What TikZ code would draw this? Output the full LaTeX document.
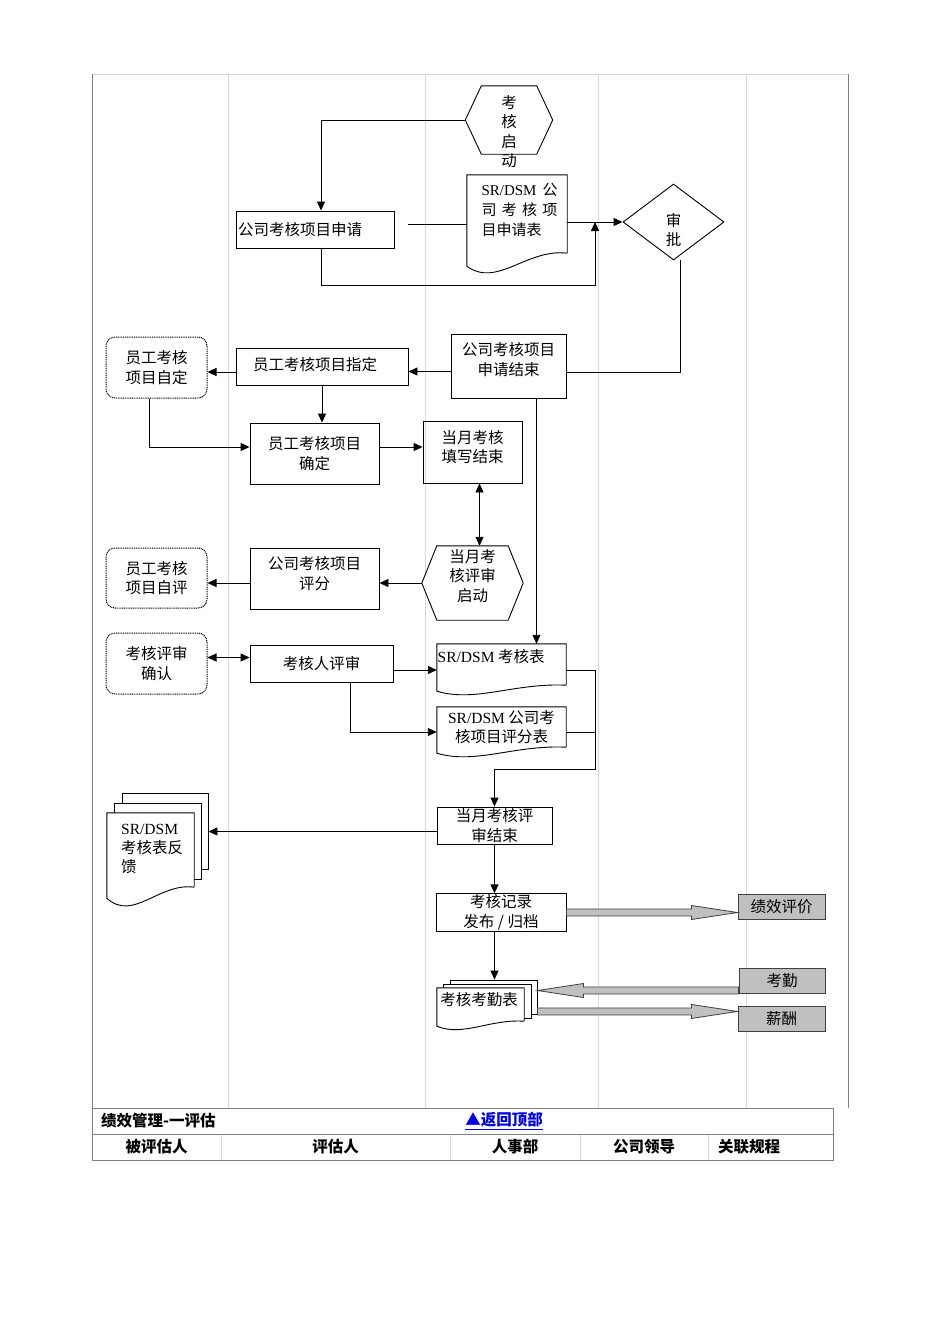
\documentclass[tikz,border=0pt]{standalone}
\usepackage{fontspec}
\setmainfont{Noto Sans CJK SC}
\newfontfamily\lat{Liberation Serif}
\usetikzlibrary{arrows.meta,calc,shapes.geometric}
\definecolor{lanec}{RGB}{215,215,215}
\definecolor{bordc}{RGB}{128,128,128}
\definecolor{fatfill}{RGB}{192,192,192}
\definecolor{fatdraw}{RGB}{64,64,64}
\definecolor{linkc}{RGB}{0,0,230}
\newcommand\docpath[3]{%
  \draw[docst] (#1.south east) -- (#1.north east) -- (#1.north west) -- ([yshift=-#2pt]#1.south west)
   .. controls ($(#1.south west)!0.3!(#1.south east)+(0,1.75*#3)$) and ($(#1.south west)!0.6!(#1.south east)+(0,-0.25*#3)$) .. (#1.south east);}
\newcommand\hexpath[2]{%
  \draw[docst] (#1.west) -- ([xshift=#2pt]#1.north west) -- ([xshift=-#2pt]#1.north east) -- (#1.east)
   -- ([xshift=-#2pt]#1.south east) -- ([xshift=#2pt]#1.south west) -- cycle;}
\newcommand\fatR[2]{%
  \draw[fat] let \p1=#1, \p2=#2 in (\x1,\y1+3.5pt) -- (\x2-46pt,\y1+3.5pt) -- (\x2-46pt,\y1+7pt) -- (\x2,\y1)
   -- (\x2-46pt,\y1-7pt) -- (\x2-46pt,\y1-3.5pt) -- (\x1,\y1-3.5pt) -- cycle;}
\newcommand\fatL[2]{%
  \draw[fat] let \p1=#1, \p2=#2 in (\x1,\y1+3.5pt) -- (\x2+46pt,\y1+3.5pt) -- (\x2+46pt,\y1+7pt) -- (\x2,\y1)
   -- (\x2+46pt,\y1-7pt) -- (\x2+46pt,\y1-3.5pt) -- (\x1,\y1-3.5pt) -- cycle;}
\begin{document}
\begin{tikzpicture}[x=1pt,y=-1pt,
  every node/.style={font=\fontsize{15.5}{19.5}\selectfont},
  lane/.style={draw=lanec, line width=0.8pt},
  bord/.style={draw=bordc, line width=1pt},
  box/.style={draw, line width=0.9pt, rectangle, inner sep=1pt, align=center},
  ghost/.style={draw=none, rectangle, inner sep=0pt, align=center},
  dotbox/.style={draw, rectangle, rounded corners=9pt, dash pattern=on 1pt off 0.8pt, line width=1pt, inner sep=1pt, align=center, minimum width=101pt, minimum height=61pt},
  graybox/.style={draw=fatdraw, fill=fatfill, line width=1pt, rectangle, inner sep=0pt, minimum width=87pt, minimum height=25pt},
  page/.style={draw, fill=white, line width=0.9pt, rectangle, inner sep=0pt},
  docst/.style={draw, fill=white, line width=0.9pt},
  txt/.style={align=center, inner sep=0pt},
  conn/.style={line width=0.9pt, -{Triangle[length=9pt,width=8pt]}},
  dconn/.style={line width=0.9pt, {Triangle[length=9pt,width=8pt]}-{Triangle[length=9pt,width=8pt]}},
  plain/.style={line width=0.9pt},
  fat/.style={draw=fatdraw, fill=fatfill, line width=0.8pt},
  tbl/.style={inner sep=0pt, font=\fontsize{15.5}{19}\selectfont\bfseries}
]
\useasboundingbox (0,0) rectangle (950,1344);
\fill[white] (0,0) rectangle (950,1344);

% swimlanes
\foreach \lx in {228,425,598,746} \draw[lane] (\lx,74) -- (\lx,1108);
\draw[lane] (92,74) -- (848,74);
\draw[bord] (92,74) -- (92,1160);
\draw[bord] (848,74) -- (848,1108);

% table
\draw[bord] (92,1108) rectangle (833,1160);
\draw[bord] (92,1134) -- (833,1134);
\foreach \lx in {221,450,580,708} \draw[lane] (\lx,1134.5) -- (\lx,1159.5);
\node[tbl, anchor=west] (tA) at (101,1121) {绩效管理-一评估};
\node[tbl, text=linkc] (tB) at (504,1121) {\underline{▲返回顶部}};
\node[tbl] (tC) at (156.5,1147) {被评估人};
\node[tbl] (tD) at (335.5,1147) {评估人};
\node[tbl] (tE) at (515,1147) {人事部};
\node[tbl] (tF) at (644,1147) {公司领导};
\node[tbl, anchor=west] (tG) at (718,1147) {关联规程};

% start hexagon
\node[ghost, minimum width=87pt, minimum height=68pt] (hx1) at (509,120) {};
\hexpath{hx1}{16}
\node[txt] (hx1T) at (509,131.5) {考\\核\\启\\动};

% company application
\node[box, minimum width=158pt, minimum height=37pt, text width=154pt, align=left] (sq) at (315,229.5) {公司考核项目申请};

% application form document
\node[ghost, minimum width=100pt, minimum height=78pt] (doc1) at (517,214) {};
\docpath{doc1}{13}{20}
\node[txt, text width=76pt, align=left, font=\fontsize{15}{20}\selectfont] (doc1T) at (519.5,210) {{\lat SR/DSM}\hfill 公\\司\hfill 考\hfill 核\hfill 项\\目申请表};

% approval diamond
\node[diamond, draw, line width=0.9pt, inner sep=0pt, aspect=1.33, minimum width=101pt, minimum height=76pt] (sp) at (673.5,222) {};
\node[txt] (spT) at (673.5,230) {审\\批};

% application end
\node[box, minimum width=115pt, minimum height=64pt] (sqend) at (508.5,366) {};
\node[txt] (sqendT) at (508.5,359.5) {公司考核项目\\申请结束};

% employee items assigned
\node[box, minimum width=172pt, minimum height=37pt] (zd) at (322,366.5) {};
\node[txt] (zdT) at (315,365) {员工考核项目指定};

% self-defined
\node[dotbox] (zdy) at (156.5,367.5) {员工考核\\项目自定};

% confirmed
\node[box, minimum width=129pt, minimum height=61pt] (qd) at (314.5,453.5) {员工考核项目\\确定};

% filling end
\node[box, minimum width=99pt, minimum height=62pt] (tx) at (472.5,452) {};
\node[txt] (txT) at (472.5,447) {当月考核\\填写结束};

% review start hexagon
\node[ghost, minimum width=101pt, minimum height=74pt] (ps) at (472.5,583) {};
\hexpath{ps}{15}
\node[txt] (psT) at (472.5,576) {当月考\\核评审\\启动};

% scoring
\node[box, minimum width=129pt, minimum height=61pt] (pf) at (314.5,578.5) {};
\node[txt] (pfT) at (314.5,573.5) {公司考核项目\\评分};

% self-evaluation
\node[dotbox, minimum height=60pt] (zp) at (156.5,578) {员工考核\\项目自评};

% review confirm
\node[dotbox] (qr) at (156.5,663.5) {考核评审\\确认};

% reviewer review
\node[box, minimum width=143pt, minimum height=37pt] (khr) at (321.5,663.5) {考核人评审};

% SR/DSM assessment form
\node[ghost, minimum width=129pt, minimum height=41pt] (khb) at (501.5,664.5) {};
\docpath{khb}{6}{10}
\node[txt, anchor=west] (khbT) at (437.5,657) {{\lat SR/DSM} 考核表};

% scoring form
\node[ghost, minimum width=129pt, minimum height=40pt] (pfb) at (501.5,727) {};
\docpath{pfb}{6}{10}
\node[txt] (pfbT) at (501.5,727) {{\lat SR/DSM} 公司考\\核项目评分表};

% review end
\node[box, minimum width=115pt, minimum height=37pt] (pj) at (494.5,825.5) {当月考核评\\审结束};

% feedback multi-document
\node[page, minimum width=86pt, minimum height=76pt] (fb3) at (165,831) {};
\node[page, minimum width=87pt, minimum height=76pt] (fb2) at (157.5,841) {};
\node[ghost, minimum width=87pt, minimum height=74pt] (fb) at (150.5,850) {};
\docpath{fb}{11}{20}
\node[txt, anchor=west, align=left] (fbT) at (121,849) {{\lat SR/DSM}\\考核表反\\馈};

% record publish
\node[box, minimum width=130pt, minimum height=37pt] (rec) at (501,912.5) {考核记录\\发布 / 归档};

% gray boxes
\node[graybox] (jx) at (781.5,906.5) {绩效评价};
\node[graybox, minimum width=86pt] (kq) at (782,980.5) {考勤};
\node[graybox] (xc) at (781.5,1018.5) {薪酬};

% attendance multi-document
\node[page, minimum width=87pt, minimum height=34pt] (kqb3) at (493.5,997) {};
\node[page, minimum width=88pt, minimum height=34pt] (kqb2) at (487,1001) {};
\node[ghost, minimum width=87pt, minimum height=33pt] (kqb) at (480.5,1004.5) {};
\docpath{kqb}{5}{9}
\node[txt] (kqbT) at (479,1000) {考核考勤表};

% connectors
\coordinate (g1) at (408,224);
\coordinate (j1) at (595,285);
\coordinate (j2) at (595,769);
\draw[conn] (hx1.west) -| ([xshift=6pt]sq.north);
\draw[plain] (g1) -- (g1 -| doc1.west);
\draw[conn] (sp.west -| doc1.east) -- (sp.west);
\draw[conn] ([xshift=6pt]sq.south) |- (j1) -- (j1 |- sp.west);
\draw[plain] ([xshift=7pt]sp.south) |- ([yshift=-6pt]sqend.east);
\draw[conn] ([yshift=-5.5pt]sqend.west) -- ([yshift=-5.5pt]sqend.west -| zd.east);
\draw[conn] ([yshift=-5.5pt]zd.west) -- ([yshift=-5.5pt]zd.west -| zdy.east);
\draw[conn] (zd.south) -- (zd.south |- qd.north);
\draw[conn] ([xshift=-7.5pt]zdy.south) |- ([yshift=6.5pt]qd.west);
\draw[conn] ([yshift=6.5pt]qd.east) -- ([yshift=6.5pt]qd.east -| tx.west);
\draw[dconn] ([xshift=7pt]tx.south) -- ([xshift=7pt]tx.south |- ps.north);
\draw[conn] (ps.west) -- (ps.west -| pf.east);
\draw[conn] (ps.west -| pf.west) -- (ps.west -| zp.east);
\draw[conn] ([xshift=28pt]sqend.south) -- ([xshift=28pt]sqend.south |- khb.north);
\draw[dconn] ([yshift=6pt]qr.east) -- ([yshift=6pt]qr.east -| khr.west);
\draw[conn] ([yshift=-6.5pt]khr.east) -- ([yshift=-6.5pt]khr.east -| khb.west);
\draw[conn] ([xshift=28.5pt]khr.south) |- ([yshift=-5pt]pfb.west);
\draw[conn] ([yshift=-5.5pt]khb.east) -| (j2) -| (pj.north);
\draw[plain] ([yshift=-5pt]pfb.east) -- ([yshift=-5pt]pfb.east -| j2);
\draw[conn] ([yshift=-6pt]pj.west) -- ([yshift=-6pt]pj.west -| fb3.east);
\draw[conn] (pj.south) -- (pj.south |- rec.north);
\draw[conn] (pj.south |- rec.south) -- (pj.south |- kqb3.north);
\fatR{(rec.east)}{(jx.west)}
\fatL{([yshift=3pt]kq.south west)}{(kqb3.east)}
\fatR{([yshift=3pt]kqb3.south east)}{(xc.west)}
\end{tikzpicture}
\end{document}
